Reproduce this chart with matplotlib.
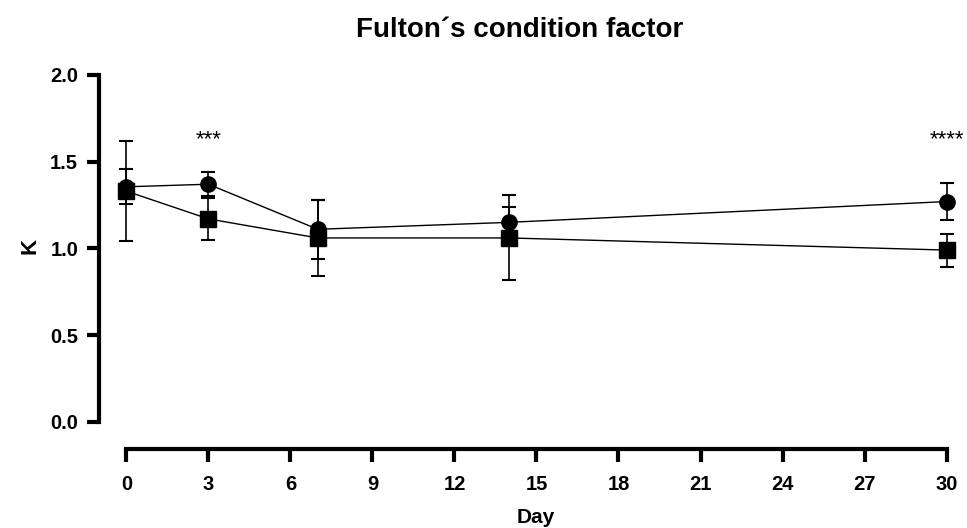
import numpy as np
import matplotlib.pyplot as plt

plt.rcParams['font.family'] = ['Liberation Sans', 'DejaVu Sans']
plt.rcParams['font.weight'] = 'bold'

days = [0, 3, 7, 14, 30]
# group shown with circles
circle_mean = [1.355, 1.37, 1.11, 1.15, 1.27]
circle_sd = [0.10, 0.07, 0.17, 0.09, 0.105]
# group shown with squares
square_mean = [1.33, 1.17, 1.06, 1.06, 0.99]
square_sd = [0.29, 0.12, 0.22, 0.245, 0.095]

star_days = [3, 30]
star_labels = ['***', '****']
star_y = 1.595

xticks = list(range(0, 31, 3))
yticks = [0.0, 0.5, 1.0, 1.5, 2.0]

fig = plt.figure(figsize=(9.67, 5.28), dpi=100)
ax = fig.add_axes([99/967, 1 - 421.7/528, 864/967, (421.7 - 75)/528])

ax.errorbar(days, square_mean, yerr=square_sd, fmt='-s', color='black',
            markersize=11, linewidth=1.0, elinewidth=1.2, capsize=5,
            capthick=1.5, clip_on=False, zorder=3)
ax.errorbar(days, circle_mean, yerr=circle_sd, fmt='-o', color='black',
            markersize=11, linewidth=1.0, elinewidth=1.2, capsize=5,
            capthick=1.5, clip_on=False, zorder=4)

for d, s in zip(star_days, star_labels):
    ax.text(d, star_y, s, ha='center', va='baseline', fontsize=16,
            fontweight='normal', clip_on=False)

ax.set_xlim(-1.0, 30.6)
ax.set_ylim(0, 2.0)
ax.set_xticks(xticks)
ax.set_yticks(yticks)
ax.set_yticklabels([f'{v:.1f}' for v in yticks])

for side in ['top', 'right']:
    ax.spines[side].set_visible(False)
ax.spines['left'].set_linewidth(3)
ax.spines['bottom'].set_linewidth(3)
ax.spines['bottom'].set_bounds(0, 30)
ax.spines['bottom'].set_position(('outward', 20))
ax.tick_params(axis='both', width=3, length=9, labelsize=14.5)
ax.tick_params(axis='y', pad=6)
ax.tick_params(axis='x', pad=9.5)

ax.set_xlabel('Day', fontsize=15, fontweight='bold')
ax.xaxis.label.set_va('baseline')
ax.xaxis.set_label_coords(0.506, -0.292)
ax.set_ylabel('K', fontsize=16, fontweight='bold')
ax.yaxis.set_label_coords(-0.068, 0.507)

fig.text(0.537, 1 - 37/528, 'Fulton\u00b4s condition factor', ha='center',
         va='baseline', fontsize=20, fontweight='bold')

fig.savefig('out.png', dpi=100)
